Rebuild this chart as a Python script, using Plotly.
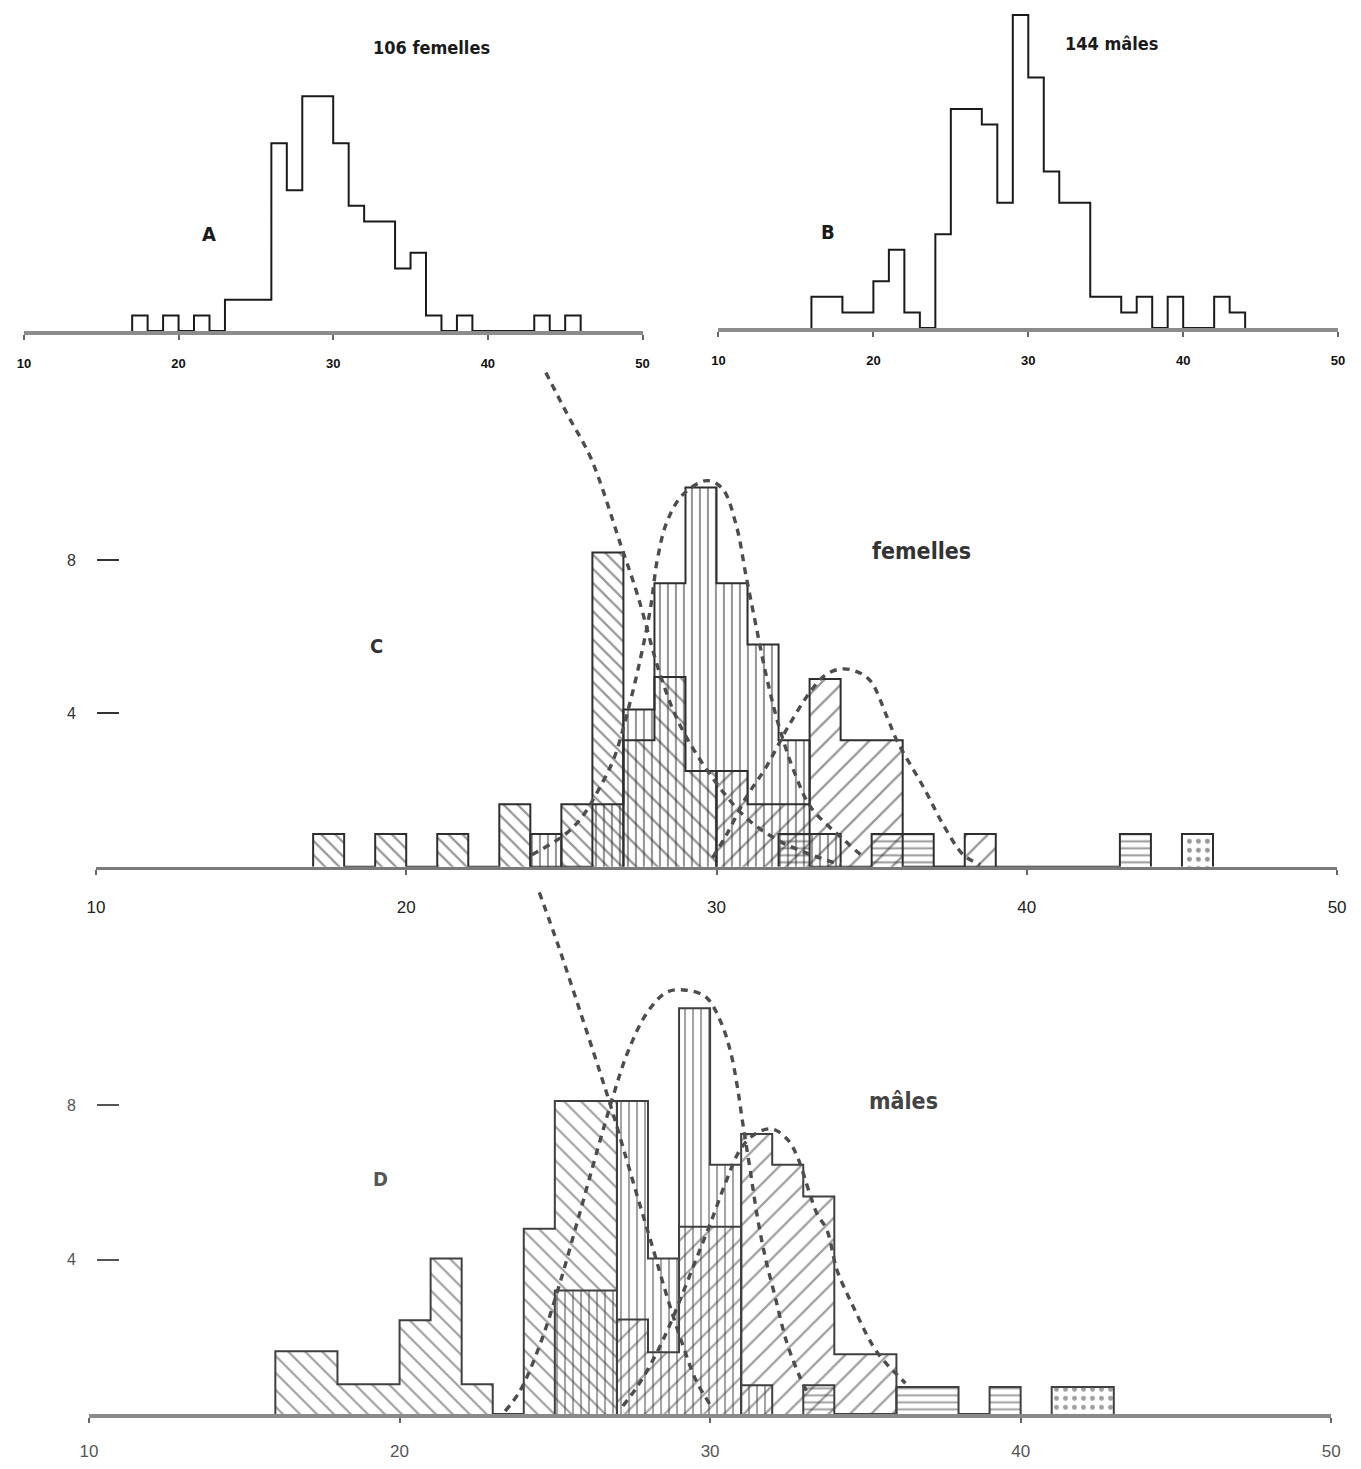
import plotly.graph_objects as go

# page body has an 8px margin: the figure is sized so it fits the 1361x1469 window exactly
W, H = 1361, 1469
OFF = 8
WF, HF = W - 2 * OFF, H - 2 * OFF

# ---------------- data ----------------
TICKS_X = [10, 20, 30, 40, 50]
TICKS_Y = [4, 8]

# A : 106 femelles (counts per 1-unit class, left edges)
A_bins = list(range(17, 46))
A_counts = [1, 0, 1, 0, 1, 0, 2, 2, 2, 12, 9, 15, 15, 12, 8, 7, 7, 4, 5, 1, 0, 1, 0, 0, 0, 0, 1, 0, 1]

# B : 144 males
B_bins = list(range(16, 44))
B_counts = [2, 2, 1, 1, 3, 5, 1, 0, 6, 14, 14, 13, 8, 20, 16, 10, 8, 8, 2, 2, 1, 2, 0, 2, 0, 0, 2, 1]

# C : femelles, components
C1_bins = list(range(17, 27)); C1_h = [0.85, 0, 0.85, 0, 0.85, 0, 1.63, 0, 1.63, 8.2]
C2_bins = list(range(24, 34)); C2_h = [0.85, 0, 1.63, 4.1, 7.4, 9.9, 7.4, 5.8, 3.3, 0.85]
C3_bins = [27, 28, 29];        C3_h = [3.3, 4.95, 2.5]
C4_bins = list(range(30, 39)); C4_h = [2.5, 1.63, 1.63, 4.9, 3.3, 3.3, 0, 0, 0.85]
C5_bins = list(range(32, 44)); C5_h = [0.85, 0, 0, 0.85, 0.85, 0, 0, 0, 0, 0, 0, 0.85]
C6_bins = [45];                C6_h = [0.85]

# C fitted curves
C_k1_x = [24.5, 25.2, 25.96, 26.92, 27.46, 28.19, 28.82, 29.87, 30.95, 32.0, 33.05, 34.0]
C_k1_y = [12.9, 11.8, 10.65, 8.39, 7.08, 5.0, 3.7, 2.32, 1.28, 0.68, 0.31, 0.05]
C_k2_x = [24.05, 25.1, 25.65, 26.18, 26.7, 27.14, 27.55, 27.87, 28.1, 28.4, 28.9, 29.68, 30.19, 30.64, 30.95, 31.27, 31.6, 32.0, 32.54, 33.05, 34.13, 34.77]
C_k2_y = [0.31, 0.83, 1.28, 1.98, 2.84, 4.06, 5.44, 6.74, 8.05, 9.0, 9.7, 10.08, 9.87, 8.9, 7.6, 6.3, 5.0, 3.7, 2.4, 1.54, 0.68, 0.23]
C_k3_x = [29.87, 30.32, 30.95, 31.6, 32.32, 33.05, 33.5, 34.0, 34.5, 34.96, 35.5, 35.82, 36.68, 37.31, 37.95, 38.5]
C_k3_y = [0.23, 0.83, 1.8, 2.6, 3.67, 4.6, 5.0, 5.16, 5.1, 4.85, 3.9, 3.28, 2.06, 1.09, 0.31, 0.05]

# D : males, components
D1_bins = list(range(16, 27)); D1_h = [1.63, 1.63, 0.77, 0.77, 2.43, 4.03, 0.77, 0, 4.8, 8.1, 8.1]
D2_bins = list(range(25, 32)); D2_h = [3.2, 3.2, 8.1, 4.03, 10.5, 6.45, 0.75]
D3_bins = list(range(27, 31)); D3_h = [2.45, 1.6, 4.85, 4.85]
D4_bins = list(range(31, 36)); D4_h = [7.25, 6.45, 5.63, 1.55, 1.55]
D5_bins = list(range(33, 40)); D5_h = [0.75, 0, 0, 0.7, 0.7, 0, 0.7]
D6_bins = [41, 42];            D6_h = [0.7, 0.7]

# D fitted curves
D_k1_x = [24.5, 25.13, 25.77, 26.4, 26.81, 27.19, 27.66, 28.14, 28.61, 29.08, 29.56, 30.03]
D_k1_y = [13.5, 12.08, 10.53, 8.98, 7.95, 6.92, 5.63, 4.34, 3.05, 1.88, 0.85, 0.21]
D_k2_x = [23.4, 23.87, 24.5, 25.13, 25.77, 26.4, 26.87, 27.35, 27.98, 28.61, 29.24, 29.87, 30.35, 30.66, 30.88, 31.07, 31.3, 31.52, 31.77, 32.09, 32.46, 32.88, 33.19]
D_k2_y = [0.08, 0.59, 1.75, 3.3, 5.11, 6.92, 8.21, 9.37, 10.4, 10.92, 10.97, 10.79, 10.14, 9.37, 8.46, 7.43, 6.27, 5.11, 4.08, 3.05, 1.88, 0.98, 0.46]
D_k3_x = [27.19, 27.66, 28.14, 28.61, 29.08, 29.56, 30.03, 30.51, 30.98, 31.45, 31.99, 32.5, 32.81, 33.19, 33.44, 33.76, 34.08, 34.45, 34.71, 35.02, 35.31, 35.66, 35.97, 36.29]
D_k3_y = [0.21, 0.72, 1.37, 2.14, 3.05, 4.03, 4.98, 6.01, 6.86, 7.25, 7.38, 7.1, 6.66, 5.75, 5.19, 4.77, 3.74, 3.05, 2.61, 2.09, 1.68, 1.32, 1.06, 0.8]

# ---------------- helpers ----------------
def px(x):
    return (x - OFF) / WF

def py(y):
    return 1 - (y - OFF) / HF

def step_xy(bins, h):
    xs = [bins[0]]
    ys = [0]
    for b, v in zip(bins, h):
        xs.append(b)
        ys.append(v)
    xs.append(bins[-1] + 1)
    ys.append(0)
    return xs, ys

fig = go.Figure()

def outline(bins, h, xa, ya, color, width):
    xs, ys = step_xy(bins, h)
    fig.add_trace(go.Scatter(x=xs, y=ys, mode="lines", line=dict(shape="hv", color=color, width=width),
                             xaxis=xa, yaxis=ya, showlegend=False, hoverinfo="skip"))

def hatched(bins, h, xa, ya, shape, size, solidity, fg, lc):
    fig.add_trace(go.Bar(x=[b + 0.5 for b in bins], y=h, width=1, xaxis=xa, yaxis=ya,
                         marker=dict(color="rgba(0,0,0,0)", line=dict(width=0),
                                     pattern=dict(shape=shape, fgcolor=fg, bgcolor="rgba(0,0,0,0)",
                                                  size=size, solidity=solidity, fillmode="overlay")),
                         showlegend=False, hoverinfo="skip"))
    outline(bins, h, xa, ya, lc, 2)

def curve(xv, yv, xa, ya):
    fig.add_trace(go.Scatter(x=xv, y=yv, mode="lines", xaxis=xa, yaxis=ya,
                             line=dict(shape="spline", color="#4d4d4d", width=3.4, dash="7px,6px"),
                             showlegend=False, hoverinfo="skip"))

# A and B
outline(A_bins, A_counts, "x", "y", "#1a1a1a", 2)
outline(B_bins, B_counts, "x2", "y2", "#1a1a1a", 2)

# C
HC = "#2e2e2e"
hatched(C1_bins, C1_h, "x3", "y3", "\\", 10, 0.22, HC, HC)
hatched(C2_bins, C2_h, "x3", "y3", "|", 8, 0.26, HC, HC)
hatched(C3_bins, C3_h, "x3", "y3", "\\", 15, 0.15, HC, HC)
hatched(C4_bins, C4_h, "x3", "y3", "/", 15, 0.15, HC, HC)
hatched(C5_bins, C5_h, "x3", "y3", "-", 7, 0.28, HC, HC)
hatched(C6_bins, C6_h, "x3", "y3", ".", 9, 0.24, HC, HC)
curve(C_k1_x, C_k1_y, "x3", "y3")
curve(C_k2_x, C_k2_y, "x3", "y3")
curve(C_k3_x, C_k3_y, "x3", "y3")

# D
HD = "#404040"
hatched(D1_bins, D1_h, "x4", "y4", "\\", 12, 0.18, HD, HD)
hatched(D2_bins, D2_h, "x4", "y4", "|", 8, 0.24, HD, HD)
hatched(D3_bins, D3_h, "x4", "y4", "/", 14, 0.15, HD, HD)
hatched(D4_bins, D4_h, "x4", "y4", "/", 15, 0.15, HD, HD)
hatched(D5_bins, D5_h, "x4", "y4", "-", 7, 0.28, HD, HD)
hatched(D6_bins, D6_h, "x4", "y4", ".", 9, 0.24, HD, HD)
curve(D_k1_x, D_k1_y, "x4", "y4")
curve(D_k2_x, D_k2_y, "x4", "y4")
curve(D_k3_x, D_k3_y, "x4", "y4")

FONT = "Liberation Sans Narrow, DejaVu Sans Condensed, Liberation Sans, Arial"

def xax(dom, anchor, linecolor, lw, fsize, fcolor, standoff, weight):
    return dict(domain=dom, anchor=anchor, range=[10, 50], tickvals=TICKS_X,
                showline=True, linecolor=linecolor, linewidth=lw, ticks="outside", ticklen=5,
                tickcolor="#666", tickwidth=2, showgrid=False, zeroline=False,
                ticklabelstandoff=standoff,
                tickfont=dict(family="Liberation Sans, Arial", size=fsize, color=fcolor, weight=weight))

def yax_free(bottom, top, rng, pos, color):
    return dict(domain=[py(bottom), py(top)], range=[0, rng], anchor="free", position=px(pos),
                tickvals=TICKS_Y, ticktext=[str(t) for t in TICKS_Y], ticks="inside", ticklen=22,
                tickwidth=2, tickcolor=color, showline=False, showgrid=False, zeroline=False,
                ticklabelstandoff=20, tickfont=dict(family="Liberation Sans, Arial", size=16, color=color))

fig.update_layout(
    width=WF, height=HF, margin=dict(l=0, r=0, t=0, b=0),
    paper_bgcolor="white", plot_bgcolor="rgba(0,0,0,0)",
    barmode="overlay", bargap=0,
    xaxis=xax([px(15), px(642)], "y", "#8c8c8c", 4, 13, "#111", 12, "bold"),
    yaxis=dict(domain=[py(332), py(332 - 20.3 * 15.7)], range=[0, 20.3], visible=False),
    xaxis2=xax([px(719), px(1347)], "y2", "#8c8c8c", 4, 13, "#111", 12, "bold"),
    yaxis2=dict(domain=[py(329), py(329 - 20.3 * 15.7)], range=[0, 20.3], visible=False),
    xaxis3=xax([px(88), px(1346)], "y3", "#7a7a7a", 3, 17, "#222", 18, "normal"),
    yaxis3=yax_free(869, 869 - 13 * 38.4, 13, 88, "#333"),
    xaxis4=xax([px(81), px(1340)], "y4", "#8a8a8a", 4, 17, "#555", 13, "normal"),
    yaxis4=yax_free(1418, 1418 - 13.8 * 38.75, 13.8, 88, "#555"),
)

def label(text, x, y, size, color="#1a1a1a", weight="bold"):
    fig.add_annotation(text=text, x=px(x), y=py(y), xref="paper", yref="paper", showarrow=False,
                       xanchor="center", yanchor="middle",
                       font=dict(family=FONT, size=size, color=color, weight=weight))

label("106 femelles", 428, 48, 18)
label("144 mâles", 1117, 44, 18)
label("A", 203, 235, 20)
label("B", 830, 233, 20)
label("C", 372, 648, 20, "#333")
label("D", 376, 1182, 20, "#555")
label("femelles", 925, 552, 23, "#333")
label("mâles", 907, 1104, 23, "#444")

fig.write_html("out.html")
